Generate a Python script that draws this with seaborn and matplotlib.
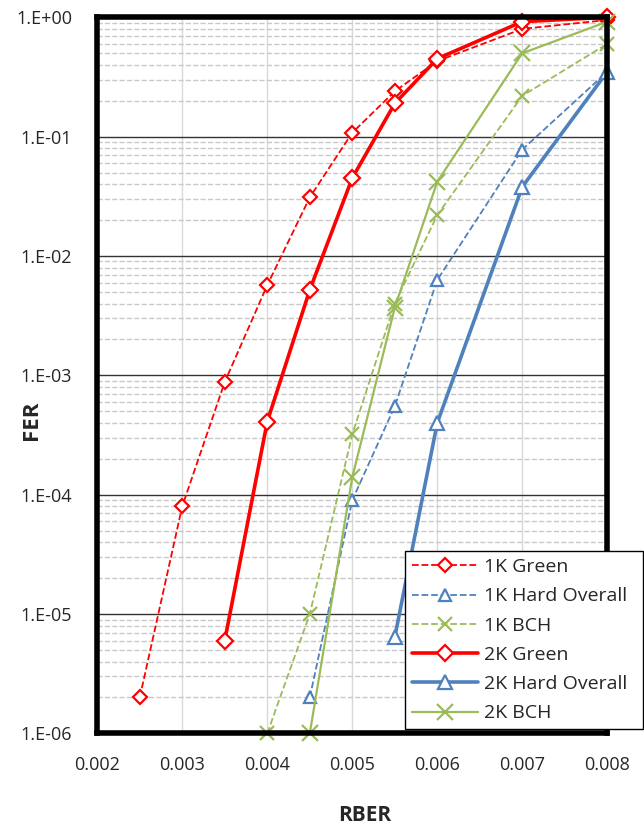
import numpy as np
import pandas as pd
import seaborn as sns
import matplotlib.pyplot as plt
from matplotlib.ticker import LogLocator, FixedLocator, NullFormatter

# data
x_1k_green = [0.0025, 0.003, 0.0035, 0.004, 0.0045, 0.005, 0.0055, 0.006, 0.007, 0.008]
y_1k_green = [2e-6, 8e-5, 8.8e-4, 5.7e-3, 3.1e-2, 0.108, 0.24, 0.43, 0.8, 0.95]

x_1k_hard = [0.0045, 0.005, 0.0055, 0.006, 0.007, 0.008]
y_1k_hard = [2e-6, 9e-5, 5.5e-4, 6.3e-3, 0.078, 0.35]

x_1k_bch = [0.004, 0.0045, 0.005, 0.0055, 0.006, 0.007, 0.008]
y_1k_bch = [1e-6, 1e-5, 3.2e-4, 4e-3, 0.022, 0.22, 0.6]

x_2k_green = [0.0035, 0.004, 0.0045, 0.005, 0.0055, 0.006, 0.007, 0.008]
y_2k_green = [6e-6, 4.1e-4, 5.2e-3, 0.045, 0.19, 0.45, 0.92, 1.0]

x_2k_hard = [0.0055, 0.006, 0.007, 0.008]
y_2k_hard = [6.4e-6, 4e-4, 0.038, 0.35]

x_2k_bch = [0.0045, 0.005, 0.0055, 0.006, 0.007, 0.008]
y_2k_bch = [1e-6, 1.4e-4, 3.7e-3, 0.042, 0.5, 0.92]

x_ticks = [0.002, 0.003, 0.004, 0.005, 0.006, 0.007, 0.008]
y_ticks = [1e-6, 1e-5, 1e-4, 1e-3, 1e-2, 1e-1, 1e0]
y_labels = ['1.E-06', '1.E-05', '1.E-04', '1.E-03', '1.E-02', '1.E-01', '1.E+00']

red = '#FF0000'
blue = '#4F81BD'
green = '#9BBB59'

sns.set_style('white')
plt.rcParams['font.family'] = ['Open Sans', 'DejaVu Sans']

fig, ax = plt.subplots(figsize=(6.44, 8.25), dpi=100)
fig.subplots_adjust(left=0.151, right=0.943, top=0.979, bottom=0.111)

series = [
    ('1K Green', x_1k_green, y_1k_green, red, '--', 1.3, 'D', 7),
    ('1K Hard Overall', x_1k_hard, y_1k_hard, blue, '--', 1.3, '^', 9),
    ('1K BCH', x_1k_bch, y_1k_bch, green, '--', 1.3, 'x', 10),
    ('2K Green', x_2k_green, y_2k_green, red, '-', 2.6, 'D', 8),
    ('2K Hard Overall', x_2k_hard, y_2k_hard, blue, '-', 2.6, '^', 10),
    ('2K BCH', x_2k_bch, y_2k_bch, green, '-', 1.6, 'x', 12),
]

for name, xs, ys, col, ls, lw, mk, ms in series:
    df = pd.DataFrame({'RBER': xs, 'FER': ys})
    sns.lineplot(data=df, x='RBER', y='FER', ax=ax, color=col, linestyle=ls,
                 linewidth=lw, marker=mk, markersize=ms, markerfacecolor='white',
                 markeredgecolor=col, markeredgewidth=1.6, label=name,
                 clip_on=False, zorder=3)

ax.set_yscale('log')
ax.set_xlim(0.002, 0.008)
ax.set_ylim(1e-6, 1)
ax.xaxis.set_major_locator(FixedLocator(x_ticks))
ax.set_xticklabels(['%.3f' % v for v in x_ticks])
ax.yaxis.set_major_locator(FixedLocator(y_ticks))
ax.set_yticklabels(y_labels)
ax.yaxis.set_minor_locator(LogLocator(base=10, subs=np.arange(2, 10)))
ax.yaxis.set_minor_formatter(NullFormatter())

ax.grid(which='major', axis='y', color='#333333', linewidth=1.0)
ax.grid(which='minor', axis='y', color='#c8c8c8', linestyle='--', linewidth=1.0)
ax.grid(which='major', axis='x', color='#d9d9d9', linewidth=1.0)
ax.set_axisbelow(True)

for sp in ax.spines.values():
    sp.set_linewidth(4)
    sp.set_color('black')
    sp.set_zorder(4)

ax.tick_params(axis='both', which='both', length=0, labelsize=13)
ax.tick_params(axis='y', pad=18)
ax.tick_params(axis='x', pad=16)
ax.set_xlabel('RBER', fontsize=15, fontweight='bold')
ax.set_ylabel('FER', fontsize=16, fontweight='bold')
ax.xaxis.set_label_coords(0.525, -0.114)
ax.xaxis.label.set_va('center')
ax.yaxis.set_label_coords(-0.129, 0.437)
ax.yaxis.label.set_va('center')

ax.get_legend().remove()
handles, labels = ax.get_legend_handles_labels()
leg = fig.legend(handles, labels, loc='lower left',
                 bbox_to_anchor=(0.629, 0.116, 0.37, 0.218), mode='expand',
                 fontsize=14, frameon=True, fancybox=False, shadow=False,
                 handlelength=3.4, handletextpad=0.3, borderaxespad=0,
                 labelspacing=0.58, borderpad=0.35)
leg.get_frame().set_edgecolor('black')
leg.get_frame().set_linewidth(1.0)
leg.get_frame().set_alpha(1.0)

fig.savefig('out.png', dpi=100)
